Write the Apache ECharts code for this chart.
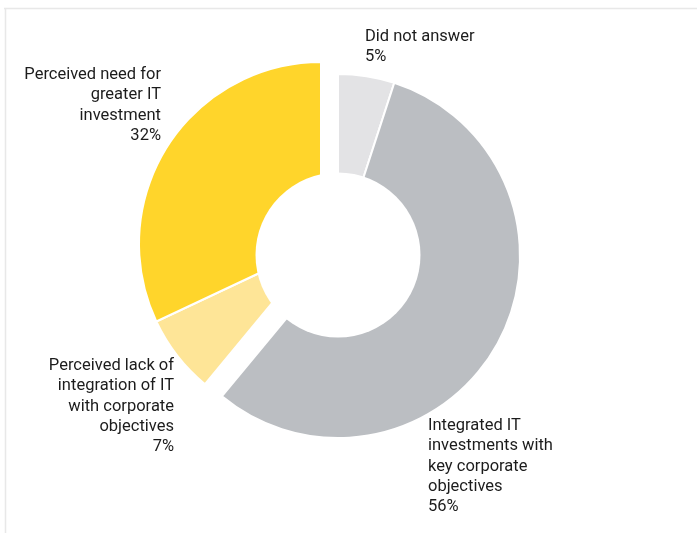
<!DOCTYPE html>
<html>
<head>
<meta charset="utf-8">
<script src="https://cdn.jsdelivr.net/npm/echarts@6/dist/echarts.min.js"></script>
<style>
  html, body { margin: 0; padding: 0; background: #ffffff; }
  #chart { width: 697px; height: 533px; }
</style>
</head>
<body>
<div id="chart"></div>
<script>
// Survey answers, clockwise from 12 o'clock
const categories = [
  'Did not answer',
  'Integrated IT\ninvestments with\nkey corporate\nobjectives',
  'Perceived lack of\nintegration of IT\nwith corporate\nobjectives',
  'Perceived need for\ngreater IT\ninvestment'
];
const shares = [5, 56, 7, 32];
const sliceColors = ['#E3E3E5', '#BBBEC2', '#FEE597', '#FFD52B'];
// which slices sit in the pulled-out (left) group
const pulledOut = [false, false, true, true];

// label anchors (text block top edge and alignment side)
const labelAnchors = [
  { x: 365, y: 27, align: 'left' },
  { x: 428, y: 416, align: 'left' },
  { x: 174, y: 356, align: 'right' },
  { x: 161, y: 65, align: 'right' }
];

const R = 182;
const HOLE = 82.5;
const mainCenter = [338, 256];
const pulledCenter = [321, 244];

function buildSeries(pulled, center) {
  return {
    type: 'pie',
    center: center,
    radius: [0, R],
    startAngle: 90,
    clockwise: true,
    avoidLabelOverlap: false,
    animation: false,
    silent: true,
    data: shares.map((v, i) => {
      const visible = pulledOut[i] === pulled;
      return {
        name: categories[i],
        value: v,
        itemStyle: visible
          ? { color: sliceColors[i], borderColor: '#ffffff', borderWidth: 2 }
          : { color: 'rgba(0,0,0,0)', borderWidth: 0 },
        label: { show: visible }
      };
    }),
    label: {
      position: 'outside',
      formatter: '{b}\n{c}%',
      fontFamily: 'Roboto',
      fontSize: 16.5,
      lineHeight: 20.2,
      color: '#1c1c1c'
    },
    labelLine: { show: false },
    labelLayout: function (p) {
      const a = labelAnchors[p.dataIndex];
      return { x: a.x, y: a.y, align: a.align, verticalAlign: 'top' };
    }
  };
}

const chart = echarts.init(document.getElementById('chart'), null, { renderer: 'canvas' });
chart.setOption({
  backgroundColor: '#ffffff',
  animation: false,
  series: [
    buildSeries(false, mainCenter),
    buildSeries(true, pulledCenter)
  ],
  graphic: [
    // donut hole
    { type: 'circle', z: 50, silent: true,
      shape: { cx: mainCenter[0], cy: mainCenter[1] - 1, r: HOLE },
      style: { fill: '#ffffff' } },
    // panel frame
    { type: 'line', z: 1, silent: true,
      shape: { x1: 4, y1: 8.5, x2: 697, y2: 8.5 },
      style: { stroke: '#e8e8e8', lineWidth: 1.5 } },
    { type: 'line', z: 1, silent: true,
      shape: { x1: 5.5, y1: 8, x2: 5.5, y2: 533 },
      style: { stroke: '#e8e8e8', lineWidth: 1.5 } }
  ]
});
</script>
</body>
</html>
